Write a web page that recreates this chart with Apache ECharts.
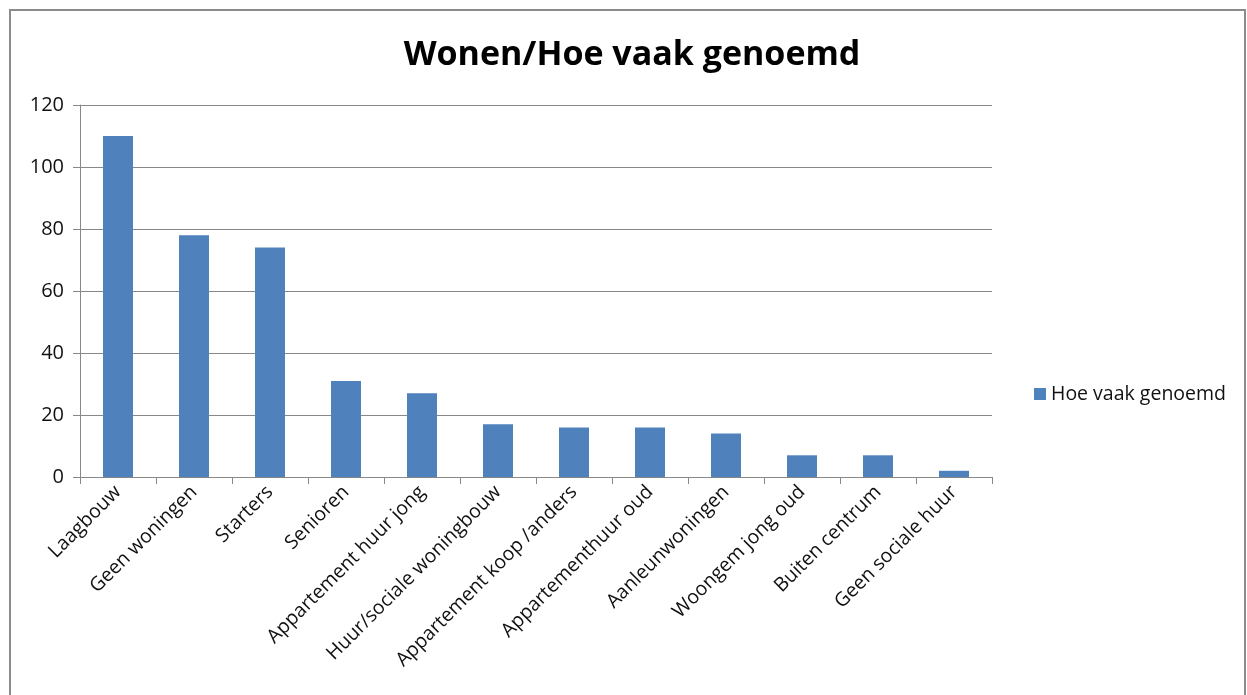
<!DOCTYPE html>
<html lang="nl">
<head>
    <meta charset="UTF-8">
    <title>Wonen/Hoe vaak genoemd</title>
    <script src="https://cdn.jsdelivr.net/npm/echarts@6/dist/echarts.min.js"></script>
    <style>
        html, body { margin: 0; padding: 0; background: #fff; }
    </style>
</head>
<body>
    <div id="main" style="width: 1247px;height:695px;"></div>
    <script type="text/javascript">
        // data
        const categories = [
            'Laagbouw', 'Geen woningen', 'Starters', 'Senioren',
            'Appartement huur jong', 'Huur/sociale woningbouw',
            'Appartement koop /anders', 'Appartementhuur oud',
            'Aanleunwoningen', 'Woongem jong oud', 'Buiten centrum',
            'Geen sociale huur'
        ];
        const counts = [110, 78, 74, 31, 27, 17, 16, 16, 14, 7, 7, 2];
        const yTicks = [0, 20, 40, 60, 80, 100, 120];

        const font = '"Open Sans", "DejaVu Sans", sans-serif';

        const myChart = echarts.init(document.getElementById('main'));

        const option = {
            animation: false,
            textStyle: { fontFamily: font },
            title: {
                text: 'Wonen/Hoe vaak genoemd',
                left: 627,
                top: 33,
                textAlign: 'center',
                textStyle: { fontSize: 34, fontWeight: 'bold', color: '#000', fontFamily: font }
            },
            legend: {
                data: ['Hoe vaak genoemd'],
                left: 1029,
                top: 379,
                itemWidth: 12,
                itemHeight: 12,
                itemGap: 6,
                icon: 'rect',
                textStyle: { fontSize: 19.5, color: '#111', fontFamily: font }
            },
            graphic: [{
                type: 'rect',
                shape: { x: 10, y: 10, width: 1235, height: 720 },
                style: { fill: 'none', stroke: '#8c8c8c', lineWidth: 2 },
                silent: true
            }],
            grid: {
                left: 80,
                right: 255,
                top: 105,
                bottom: 218,
                containLabel: false
            },
            xAxis: {
                type: 'category',
                data: categories,
                axisLine: { lineStyle: { color: '#888', width: 1 } },
                axisTick: { show: true, alignWithLabel: false, length: 7, lineStyle: { color: '#888' } },
                axisLabel: {
                    interval: 0,
                    rotate: 45,
                    fontSize: 19.5,
                    color: '#111',
                    margin: 12
                }
            },
            yAxis: {
                type: 'value',
                min: yTicks[0],
                max: yTicks[yTicks.length - 1],
                interval: 20,
                axisLine: { show: true, lineStyle: { color: '#888', width: 1 } },
                axisTick: { show: true, length: 7, lineStyle: { color: '#888' } },
                splitLine: { lineStyle: { color: '#888', width: 1 } },
                axisLabel: { fontSize: 20, color: '#111', margin: 16 }
            },
            series: [{
                name: 'Hoe vaak genoemd',
                type: 'bar',
                data: counts,
                barWidth: 30,
                itemStyle: { color: '#4f81bd' }
            }]
        };

        myChart.setOption(option);
    </script>
</body>
</html>
